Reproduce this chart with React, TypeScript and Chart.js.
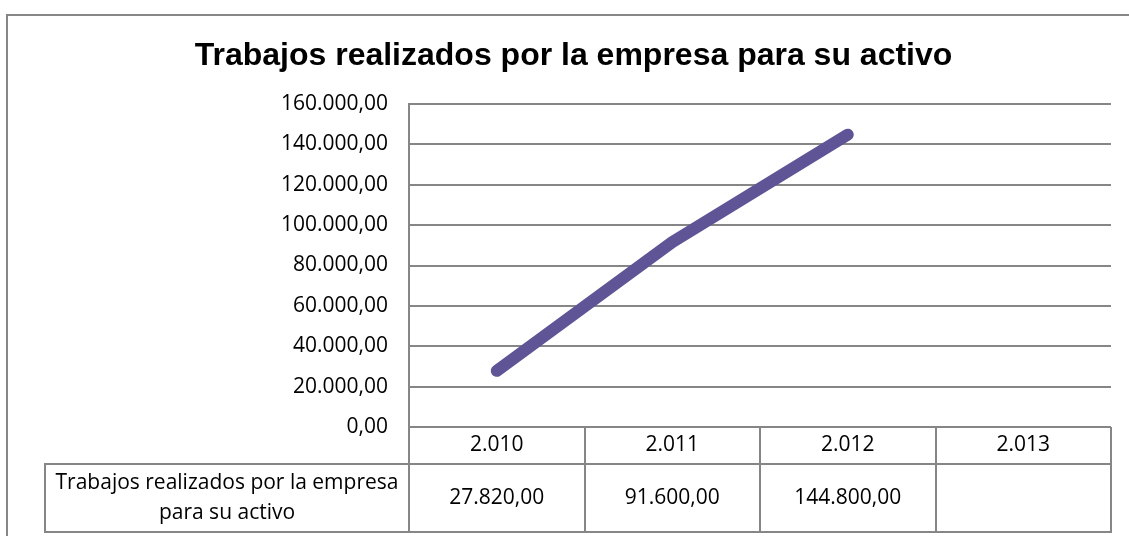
import React, { useEffect, useRef } from "react";
import { Chart, registerables } from "chart.js";

Chart.register(...registerables);

const TITLE = "Trabajos realizados por la empresa para su activo";
const SERIES_NAME_LINES = ["Trabajos realizados por la empresa", "para su activo"];
const CATEGORIES = ["2.010", "2.011", "2.012", "2.013"];
const VALUES: (number | null)[] = [27820, 91600, 144800, null];
const Y_MIN = 0;
const Y_MAX = 160000;
const Y_STEP = 20000;

const LINE_COLOR = "#5F5596";
const GRID_COLOR = "#868686";
const TEXT_FONT = "'Open Sans', 'Noto Sans', sans-serif";
const TEXT_SIZE = 21;

function fmt(n: number): string {
  const [int, dec] = Math.abs(n).toFixed(2).split(".");
  const grouped = int.replace(/\B(?=(\d{3})+(?!\d))/g, ".");
  return (n < 0 ? "-" : "") + grouped + "," + dec;
}

const frameAndTable = {
  id: "frameAndTable",
  beforeDraw(chart: any) {
    const ctx = chart.ctx;
    ctx.save();
    ctx.fillStyle = "#ffffff";
    ctx.fillRect(0, 0, chart.width, chart.height);
    ctx.strokeStyle = "#878787";
    ctx.lineWidth = 2;
    ctx.strokeRect(7, 15, chart.width + 20, chart.height + 20);
    ctx.restore();
  },
  afterDraw(chart: any) {
    const ctx = chart.ctx;
    const area = chart.chartArea;
    const xs = chart.scales.x;
    const n = CATEGORIES.length;
    const colW = (area.right - area.left) / n;
    const headerTop = area.bottom;
    const headerBottom = headerTop + 37;
    const rowBottom = headerBottom + 68;
    const nameLeft = 45;

    ctx.save();
    ctx.strokeStyle = GRID_COLOR;
    ctx.lineWidth = 2;
    const h = (x1: number, x2: number, y: number) => {
      ctx.beginPath();
      ctx.moveTo(x1 - 1, Math.round(y));
      ctx.lineTo(x2 + 1, Math.round(y));
      ctx.stroke();
    };
    const v = (x: number, y1: number, y2: number) => {
      ctx.beginPath();
      ctx.moveTo(Math.round(x), y1);
      ctx.lineTo(Math.round(x), y2 + 1);
      ctx.stroke();
    };
    h(nameLeft, area.right, headerBottom);
    h(nameLeft, area.right, rowBottom);
    v(nameLeft, headerBottom, rowBottom);
    for (let i = 0; i <= n; i++) {
      v(area.left + i * colW, headerTop, rowBottom);
    }

    ctx.fillStyle = "#000000";
    ctx.font = `${TEXT_SIZE}px ${TEXT_FONT}`;
    ctx.textAlign = "center";
    ctx.textBaseline = "middle";
    for (let i = 0; i < n; i++) {
      const cx = xs.getPixelForTick(i);
      ctx.fillText(CATEGORIES[i], cx, (headerTop + headerBottom) / 2);
      const val = VALUES[i];
      if (val !== null) ctx.fillText(fmt(val), cx, (headerBottom + rowBottom) / 2);
    }
    const nameCx = (nameLeft + area.left) / 2;
    const mid = (headerBottom + rowBottom) / 2;
    ctx.fillText(SERIES_NAME_LINES[0], nameCx, mid - 15);
    ctx.fillText(SERIES_NAME_LINES[1], nameCx, mid + 15);
    ctx.restore();
  },
};

export default function App() {
  const ref = useRef<HTMLCanvasElement | null>(null);
  useEffect(() => {
    if (!ref.current) return;
    const chart = new Chart(ref.current, {
      type: "line",
      data: {
        labels: CATEGORIES,
        datasets: [
          {
            label: SERIES_NAME_LINES.join(" "),
            data: VALUES,
            borderColor: LINE_COLOR,
            backgroundColor: LINE_COLOR,
            borderWidth: 12,
            borderCapStyle: "round",
            borderJoinStyle: "round",
            pointRadius: 0,
            pointHoverRadius: 0,
            tension: 0,
            spanGaps: false,
          },
        ],
      },
      options: {
        responsive: false,
        animation: false,
        layout: { padding: { left: 36, right: 18, top: 12, bottom: 109 } },
        plugins: {
          legend: { display: false },
          tooltip: { enabled: false },
          title: {
            display: true,
            text: TITLE,
            color: "#000000",
            font: { family: "'Liberation Sans', Arial, sans-serif", size: 32, weight: "bold", lineHeight: 1.2 },
            padding: { top: 25, bottom: 28.6 },
          },
        },
        scales: {
          x: {
            type: "category",
            display: false,
            offset: true,
          },
          y: {
            min: Y_MIN,
            max: Y_MAX,
            afterFit(scale: any) {
              scale.width = 373;
            },
            border: { display: true, color: GRID_COLOR, width: 2 },
            grid: { color: GRID_COLOR, lineWidth: 2, drawTicks: false },
            ticks: {
              stepSize: Y_STEP,
              padding: 21,
              color: "#000000",
              font: { family: TEXT_FONT, size: TEXT_SIZE },
              callback: (val: any) => fmt(Number(val)),
            },
          },
        },
      },
      plugins: [frameAndTable],
    });
    return () => chart.destroy();
  }, []);
  return (
    <div style={{ position: "fixed", left: 0, top: 0, width: 1129, height: 536, background: "#fff" }}>
      <canvas ref={ref} width={1129} height={536} style={{ display: "block" }} />
    </div>
  );
}
